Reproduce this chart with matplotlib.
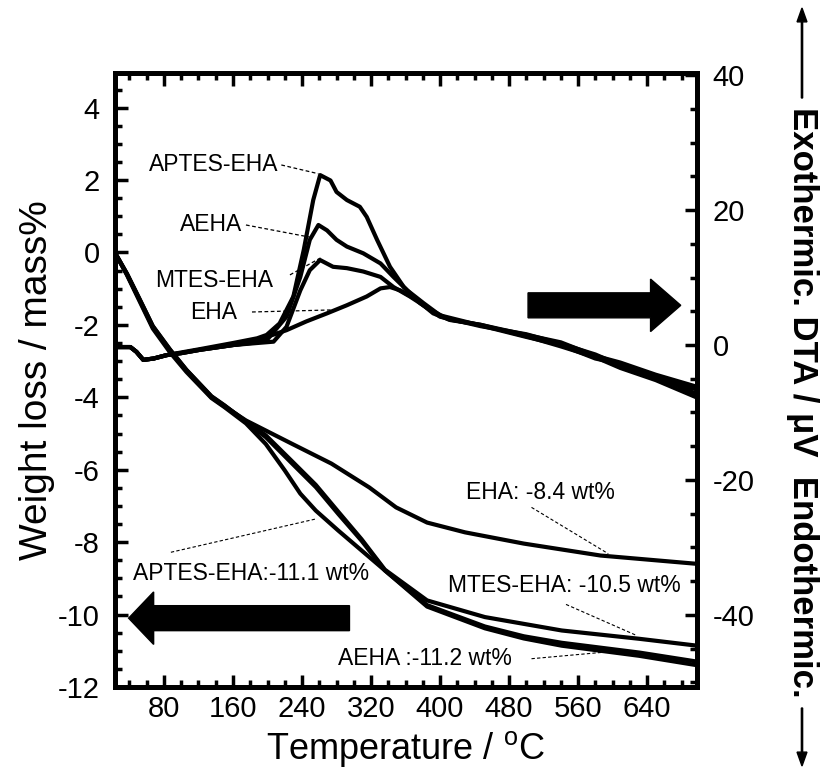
import matplotlib
matplotlib.use("Agg")
import matplotlib.pyplot as plt
from matplotlib.patches import FancyArrow
from matplotlib.ticker import MultipleLocator

plt.rcParams['font.family'] = ['Liberation Sans', 'DejaVu Sans']
plt.rcParams['mathtext.default'] = 'regular'
plt.rcParams['axes.unicode_minus'] = False

# ---- TG curves (left axis, mass%) ----
tg_t_eha = [23, 37, 52, 67, 87, 106, 135, 150, 175, 228, 274, 318, 349, 385, 429, 497, 586, 698]
tg_eha = [0, -0.6, -1.33, -2.06, -2.71, -3.26, -4.0, -4.25, -4.64, -5.28, -5.83, -6.49, -7.04, -7.46, -7.73, -8.04, -8.37, -8.6]

tg_t_aptes = [23, 37, 52, 67, 87, 106, 135, 150, 175, 198, 220, 238, 256, 282, 309, 336, 385, 452, 497, 541, 631, 698]
tg_aptes = [0, -0.62, -1.36, -2.1, -2.76, -3.3, -4.02, -4.27, -4.72, -5.29, -6.02, -6.66, -7.13, -7.68, -8.23, -8.78, -9.74, -10.33, -10.6, -10.78, -11.05, -11.3]

tg_t_aeha = [23, 37, 52, 67, 87, 106, 135, 150, 175, 198, 229, 256, 282, 309, 336, 385, 452, 497, 541, 631, 698]
tg_aeha = [0, -0.58, -1.3, -2.03, -2.68, -3.24, -3.97, -4.22, -4.68, -5.10, -5.84, -6.48, -7.22, -7.96, -8.78, -9.78, -10.38, -10.66, -10.86, -11.14, -11.4]

tg_t_mtes = [23, 37, 52, 67, 87, 106, 135, 150, 175, 198, 229, 256, 282, 309, 336, 385, 452, 541, 631, 698]
tg_mtes = [0, -0.59, -1.31, -2.04, -2.69, -3.25, -3.98, -4.23, -4.66, -5.05, -5.78, -6.42, -7.16, -7.92, -8.76, -9.61, -10.07, -10.44, -10.67, -10.86]

# ---- DTA curves (right axis, uV) ----
dta_t_aptes = [23, 41, 48, 56, 68, 83, 100, 122, 160, 188, 199, 214, 230, 242, 253, 261,
               273, 280, 292, 307, 315, 327, 342, 358, 377, 400, 447, 500, 540, 580, 609, 650, 698]
dta_aptes = [-0.3, -0.3, -1.0, -2.2, -2.0, -1.5, -1.1, -0.6, 0.3, 1.0, 1.5, 3.2, 7.2, 14.1, 21.5, 25.2,
             24.4, 22.7, 21.5, 20.5, 19.0, 15.6, 11.6, 8.6, 6.2, 4.2, 2.8, 1.6, 0.2, -1.4, -3.0, -4.6, -7.3]

dta_t_aeha = [23, 41, 48, 56, 68, 83, 100, 122, 160, 188, 199, 222, 238, 249, 259, 269,
              280, 292, 311, 331, 346, 362, 381, 400, 447, 500, 540, 580, 609, 650, 698]
dta_aeha = [-0.3, -0.3, -1.0, -2.2, -2.0, -1.5, -1.2, -0.7, 0.0, 0.4, 0.7, 4.2, 10.1, 15.6, 17.8, 17.0,
            15.6, 14.6, 13.6, 12.1, 10.1, 8.1, 6.2, 4.4, 2.9, 1.2, 0.0, -2.0, -2.8, -5.0, -6.6]

dta_t_mtes = [23, 41, 48, 56, 68, 83, 100, 122, 160, 188, 207, 222, 238, 249, 261, 276,
              292, 311, 331, 346, 365, 389, 410, 447, 500, 540, 580, 609, 650, 698]
dta_mtes = [-0.3, -0.3, -1.0, -2.2, -2.0, -1.5, -1.2, -0.7, 0.0, 0.3, 0.5, 2.7, 8.1, 11.1, 12.6, 11.6,
            11.4, 10.9, 10.1, 8.6, 7.2, 5.2, 3.8, 3.0, 1.5, 0.4, -1.6, -2.6, -4.4, -6.2]

dta_t_eha = [23, 41, 48, 56, 68, 83, 100, 122, 160, 188, 199, 222, 245, 269, 292, 315,
             331, 342, 354, 373, 392, 412, 447, 500, 540, 580, 609, 650, 698]
dta_eha = [-0.3, -0.3, -1.0, -2.2, -2.0, -1.5, -1.2, -0.7, 0.0, 0.5, 1.2, 2.2, 3.5, 4.7, 5.9, 7.2,
           8.4, 8.6, 8.1, 6.7, 4.7, 3.7, 3.0, 1.3, -0.2, -1.8, -3.4, -5.2, -7.8]

# ---- labels ----
dta_names = ["APTES-EHA", "AEHA", "MTES-EHA", "EHA"]
dta_label_xy = [(213, 26.7), (171, 17.8), (206, 9.6), (165, 4.8)]
dta_pointer = [((216, 26.7), (259, 25.4)), ((175, 17.8), (249, 16.0)),
               ((226, 10.4), (264, 13.1)), ((182, 4.9), (273, 5.2))]

tg_texts = ["EHA: -8.4 wt%", "APTES-EHA:-11.1 wt%", "MTES-EHA: -10.5 wt%", "AEHA :-11.2 wt%"]
tg_text_xy = [(516, -6.63), (181, -8.88), (544, -9.2), (382, -11.22)]
tg_pointer = [((506, -7.04), (595, -8.32)), ((88, -8.28), (256, -7.36)),
              ((546, -9.72), (628, -10.58)), ((506, -11.22), (590, -11.04))]

fig = plt.figure(figsize=(8.26, 7.71), dpi=100)
ax = fig.add_axes([0.139, 0.109, 0.705, 0.796])
ax2 = ax.twinx()

lw = 3.0
ax.plot(tg_t_eha, tg_eha, color='black', lw=lw)
ax.plot(tg_t_aptes, tg_aptes, color='black', lw=lw)
ax.plot(tg_t_aeha, tg_aeha, color='black', lw=lw)
ax.plot(tg_t_mtes, tg_mtes, color='black', lw=lw)

ax2.plot(dta_t_aptes, dta_aptes, color='black', lw=lw)
ax2.plot(dta_t_aeha, dta_aeha, color='black', lw=lw)
ax2.plot(dta_t_mtes, dta_mtes, color='black', lw=lw)
ax2.plot(dta_t_eha, dta_eha, color='black', lw=lw)

ax.set_xlim(23, 698)
ax.set_ylim(-12.0, 4.95)
ax2.set_ylim(-50.7, 40.3)

dash = (0, (3, 2))
for name, xy, (p0, p1) in zip(dta_names, dta_label_xy, dta_pointer):
    ax2.text(xy[0], xy[1], name, fontsize=16.5, ha='right', va='center')
    ax2.plot([p0[0], p1[0]], [p0[1], p1[1]], color='black', lw=0.9, ls=dash)

for txt, xy, (p0, p1) in zip(tg_texts, tg_text_xy, tg_pointer):
    ax.text(xy[0], xy[1], txt, fontsize=16.5, ha='center', va='center')
    ax.plot([p0[0], p1[0]], [p0[1], p1[1]], color='black', lw=0.8, ls=dash)

# big direction arrows
ax.add_patch(FancyArrow(295, -10.1, -256, 0, width=0.69, head_width=1.45, head_length=29,
                        length_includes_head=True, color='black'))
ax.add_patch(FancyArrow(502, -1.46, 177, 0, width=0.69, head_width=1.45, head_length=35,
                        length_includes_head=True, color='black'))

# ticks
ax.xaxis.set_major_locator(MultipleLocator(80))
ax.xaxis.set_minor_locator(MultipleLocator(20))
ax.yaxis.set_major_locator(MultipleLocator(2))
ax.yaxis.set_minor_locator(MultipleLocator(0.5))
ax2.yaxis.set_major_locator(MultipleLocator(20))
ax2.yaxis.set_minor_locator(MultipleLocator(5))

ax.tick_params(which='both', direction='in', top=True, right=False, width=2.5, labelsize=21)
ax.tick_params(which='major', length=9)
ax.tick_params(which='minor', length=5)
ax.tick_params(axis='y', pad=11)
ax.tick_params(axis='x', pad=6)
ax2.tick_params(which='both', direction='in', width=2.5, labelsize=21, pad=11)
ax2.tick_params(which='major', length=9)
ax2.tick_params(which='minor', length=5)

for a in (ax, ax2):
    for s in a.spines.values():
        s.set_linewidth(3.5)

ax.set_xlabel('Temperature / $^{o}$C', fontsize=26, labelpad=4)
ax.set_ylabel('Weight loss / mass%', fontsize=28, labelpad=2)

# right side label with arrows
fig.text(802 / 826, 1 - 402 / 771, 'Exothermic. DTA / \u03bcV  Endothermic.',
         rotation=270, ha='center', va='center', fontsize=25, fontweight='bold')
fig.patches.append(FancyArrow(802 / 826, 1 - 98 / 771, 0, 90 / 771, width=0.0015,
                              head_width=0.012, head_length=0.018, length_includes_head=True,
                              color='black', transform=fig.transFigure, figure=fig))
fig.patches.append(FancyArrow(802 / 826, 1 - 708 / 771, 0, -58 / 771, width=0.0015,
                              head_width=0.012, head_length=0.018, length_includes_head=True,
                              color='black', transform=fig.transFigure, figure=fig))

fig.savefig('out.png', dpi=100)
